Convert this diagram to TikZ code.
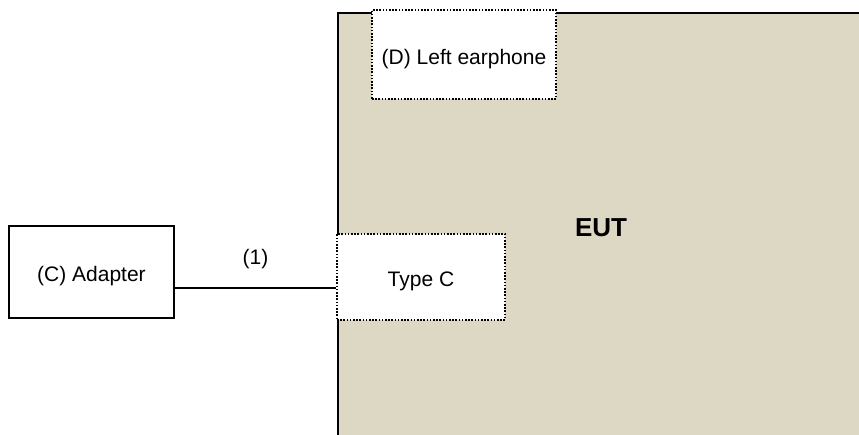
\documentclass[tikz,border=0pt]{standalone}
\usepackage{fontspec}
\setmainfont{Liberation Sans}
\definecolor{eutfill}{RGB}{221,216,195}
\begin{document}
\begin{tikzpicture}[x=1pt,y=-1pt,
  solidbox/.style={draw=black,line width=1.5pt,fill=white,inner sep=0pt,text height=20pt,text depth=1pt,font=\fontsize{21}{25}\selectfont},
  dotbox/.style={draw=black,dash pattern=on 1.6pt off 1.6pt,line width=1.6pt,fill=white,inner sep=0pt,text height=20pt,text depth=1pt,font=\fontsize{21}{25}\selectfont},
  lbl/.style={font=\fontsize{21}{25}\selectfont,inner sep=0pt}]
\useasboundingbox (0,0) rectangle (859,434);
\clip (0,0) rectangle (859,434);
\node[draw=black,line width=2pt,fill=eutfill,minimum width=553pt,minimum height=453pt,anchor=north west,inner sep=0pt] (eut) at (337,12) {};
\node[font=\bfseries\fontsize{26}{30}\selectfont,inner sep=0pt] (euttext) at (601,228) {EUT};
\node[dotbox,minimum width=184pt,minimum height=89pt] (ear) at (464,54.5) {(D) Left earphone};
\node[dotbox,minimum width=168pt,minimum height=86pt] (typec) at (421,277) {Type C};
\node[solidbox,minimum width=165pt,minimum height=92pt] (adapter) at (91.5,272) {(C) Adapter};
\draw[line width=1.4pt] (adapter.east |- 0,288) -- node[lbl,above=18pt] (cable) {(1)} (typec.west |- 0,288);
\end{tikzpicture}
\end{document}
